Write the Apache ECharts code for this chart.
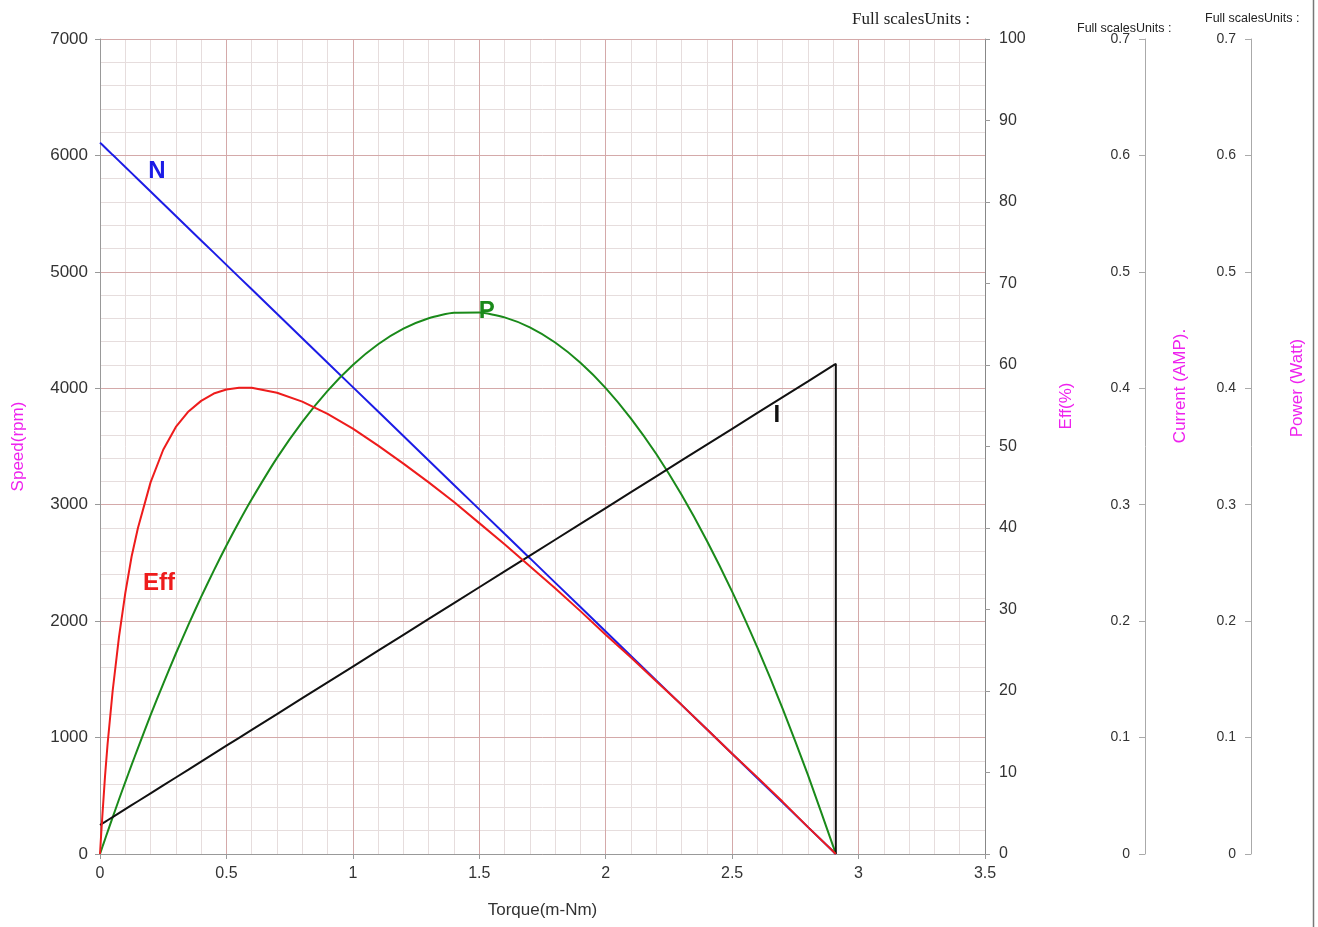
<!DOCTYPE html>
<html>
<head>
<meta charset="utf-8">
<script src="https://cdn.jsdelivr.net/npm/echarts@6/dist/echarts.min.js"></script>
<style>html,body{margin:0;padding:0;background:#fff;}#c{width:1318px;height:927px;}</style>
</head>
<body>
<div id="c"></div>
<script>
// Data
const torque = [0, 0.005, 0.01, 0.02, 0.03, 0.05, 0.075, 0.1, 0.125, 0.15, 0.2, 0.25, 0.3, 0.35, 0.4, 0.45, 0.5, 0.55, 0.6, 0.7, 0.8, 0.9, 1.0, 1.1, 1.2, 1.3, 1.4, 1.5, 1.6, 1.7, 1.8, 1.9, 2.0, 2.1, 2.2, 2.3, 2.4, 2.5, 2.6, 2.7, 2.8, 2.9, 2.91];
const speed = [6110, 6100, 6089, 6068, 6047, 6005, 5953, 5900, 5848, 5795, 5690, 5585, 5480, 5375, 5270, 5165, 5060, 4955, 4850, 4640, 4430, 4220, 4010, 3800, 3590, 3380, 3170, 2960, 2750, 2541, 2331, 2121, 1911, 1701, 1491, 1281, 1071, 861, 651, 441, 231, 21, 0];
const eff = [0, 2.6, 5.0, 9.6, 13.5, 20.0, 26.6, 32.0, 36.5, 40.0, 45.6, 49.6, 52.4, 54.3, 55.6, 56.5, 57.0, 57.2, 57.2, 56.6, 55.5, 54.0, 52.2, 50.1, 47.9, 45.6, 43.2, 40.6, 38.0, 35.3, 32.6, 29.8, 26.9, 24.1, 21.2, 18.3, 15.3, 12.3, 9.4, 6.4, 3.3, 0.3, 0];
const current = [0.0249, 0.0256, 0.0263, 0.0276, 0.0290, 0.0317, 0.0351, 0.0385, 0.0419, 0.0453, 0.0521, 0.0589, 0.0657, 0.0725, 0.0794, 0.0862, 0.0930, 0.0998, 0.1066, 0.1202, 0.1338, 0.1474, 0.1610, 0.1746, 0.1882, 0.2019, 0.2155, 0.2291, 0.2427, 0.2563, 0.2699, 0.2835, 0.2971, 0.3108, 0.3244, 0.3380, 0.3516, 0.3652, 0.3788, 0.3924, 0.4060, 0.4197, 0.4210];
const currentStallDrop = 0;
const power = [0, 0.0032, 0.0064, 0.0127, 0.0190, 0.0314, 0.0468, 0.0618, 0.0765, 0.0910, 0.1192, 0.1462, 0.1722, 0.1970, 0.2208, 0.2434, 0.2650, 0.2854, 0.3047, 0.3402, 0.3712, 0.3978, 0.4200, 0.4378, 0.4512, 0.4602, 0.4648, 0.4650, 0.4609, 0.4523, 0.4393, 0.4219, 0.4002, 0.3740, 0.3435, 0.3085, 0.2691, 0.2254, 0.1772, 0.1247, 0.0677, 0.0064, 0];
// curve labels (data coordinates on each curve's own axis)
const labelN = [0.225, 5866];
const labelEff = [0.233, 33.2];
const labelP = [1.53, 0.4664];
const labelI = [2.677, 0.377];

const pair = (ys) => torque.map((t, i) => [t, ys[i]]);
const currentData = pair(current).concat([[torque[torque.length - 1], currentStallDrop]]);

const FONT = 'Liberation Sans, Arial, sans-serif';
const MAG = '#ee22ee';
const MAJOR = '#d4a9a9';
const MINOR = '#e6dddd';
const AXC = '#999999';

function lbl(coord, text, color) {
  return {
    symbol: 'circle', symbolSize: 1, silent: true,
    itemStyle: {color: 'rgba(0,0,0,0)'},
    label: {show: true, position: 'inside', formatter: text, color: color,
      fontFamily: FONT, fontWeight: 'bold', fontSize: 24},
    data: [{coord: coord}]
  };
}
const plain = (v) => String(v);
const sideAxis = (offset) => ({
  type: 'value', gridIndex: 0, position: 'right', offset: offset, min: 0, max: 0.7, interval: 0.1, z: 1,
  axisLine: {show: true, onZero: false, lineStyle: {color: '#aaa'}},
  axisTick: {show: true, inside: true, length: 6, lineStyle: {color: '#aaa'}},
  axisLabel: {inside: true, color: '#333', fontSize: 14, margin: 15, fontFamily: FONT},
  splitLine: {show: false}
});

const chart = echarts.init(document.getElementById('c'), null, {renderer: 'canvas'});
chart.setOption({
  animation: false,
  backgroundColor: '#ffffff',
  textStyle: {fontFamily: FONT},
  grid: [{left: 100, right: 333, top: 39, bottom: 73}],
  xAxis: [
    {
      type: 'value', min: 0, max: 3.5, interval: 0.5, z: 1,
      name: 'Torque(m-Nm)', nameLocation: 'middle', nameGap: 48,
      nameTextStyle: {color: '#333', fontSize: 17, fontFamily: FONT},
      axisLine: {show: true, onZero: false, lineStyle: {color: AXC}},
      axisTick: {show: true, length: 5, lineStyle: {color: AXC}},
      axisLabel: {color: '#333', fontSize: 16, margin: 12, fontFamily: FONT, formatter: plain},
      splitLine: {show: true, lineStyle: {color: MAJOR, width: 1}}
    },
    {
      type: 'value', position: 'bottom', min: 0, max: 3.5, interval: 0.1, z: 0,
      axisLine: {show: false, onZero: false}, axisTick: {show: false}, axisLabel: {show: false},
      splitLine: {show: true, lineStyle: {color: MINOR, width: 1}}
    }
  ],
  yAxis: [
    {
      type: 'value', position: 'left', min: 0, max: 7000, interval: 1000, z: 1,
      name: 'Speed(rpm)', nameLocation: 'middle', nameGap: 73, nameRotate: 90,
      nameTextStyle: {color: MAG, fontSize: 17, fontFamily: FONT},
      axisLine: {show: true, onZero: false, lineStyle: {color: AXC}},
      axisTick: {show: true, length: 5, lineStyle: {color: AXC}},
      axisLabel: {color: '#333', fontSize: 17, margin: 12, fontFamily: FONT, formatter: plain},
      splitLine: {show: true, lineStyle: {color: MAJOR, width: 1}}
    },
    {
      type: 'value', position: 'right', min: 0, max: 100, interval: 10, z: 1,
      axisLine: {show: true, onZero: false, lineStyle: {color: '#888'}},
      axisTick: {show: true, length: 5, lineStyle: {color: AXC}},
      axisLabel: {color: '#333', fontSize: 16, margin: 14, fontFamily: FONT},
      splitLine: {show: false}
    },
    sideAxis(160),
    sideAxis(266),
    {
      type: 'value', position: 'left', min: 0, max: 7000, interval: 200, z: 0,
      axisLine: {show: false, onZero: false}, axisTick: {show: false}, axisLabel: {show: false},
      splitLine: {show: true, lineStyle: {color: MINOR, width: 1}}
    }
  ],
  series: [
    {name: 'N', type: 'line', xAxisIndex: 0, yAxisIndex: 0, data: pair(speed), showSymbol: false,
      lineStyle: {color: '#1c1ce6', width: 2}, itemStyle: {color: '#1c1ce6'}, z: 3,
      markPoint: lbl(labelN, 'N', '#1c1ce6')},
    {name: 'P', type: 'line', xAxisIndex: 0, yAxisIndex: 3, data: pair(power), showSymbol: false,
      smooth: 0.2,
      lineStyle: {color: '#1a8a1a', width: 2}, itemStyle: {color: '#1a8a1a'}, z: 3,
      markPoint: lbl(labelP, 'P', '#1a8a1a')},
    {name: 'I', type: 'line', xAxisIndex: 0, yAxisIndex: 2, data: currentData, showSymbol: false,
      lineStyle: {color: '#111', width: 2}, itemStyle: {color: '#111'}, z: 3,
      markPoint: lbl(labelI, 'I', '#111')},
    {name: 'Eff', type: 'line', xAxisIndex: 0, yAxisIndex: 1, data: pair(eff), showSymbol: false,
      lineStyle: {color: '#ee1c1c', width: 2}, itemStyle: {color: '#ee1c1c'}, z: 4,
      markPoint: lbl(labelEff, 'Eff', '#ee1c1c')}
  ],
  graphic: [
    {type: 'text', left: 852, top: 11, style: {text: 'Full scalesUnits :', fill: '#222',
      font: '17px "Liberation Serif", "Times New Roman", serif'}},
    {type: 'text', left: 1077, top: 22, style: {text: 'Full scalesUnits :', fill: '#222',
      font: '12.5px "Liberation Sans", Arial, sans-serif'}},
    {type: 'text', left: 1205, top: 12, style: {text: 'Full scalesUnits :', fill: '#222',
      font: '12.5px "Liberation Sans", Arial, sans-serif'}},
    {type: 'text', x: 1066, y: 406, rotation: Math.PI / 2, style: {text: 'Eff(%)', fill: MAG,
      font: '17px "Liberation Sans", Arial, sans-serif', textAlign: 'center', textVerticalAlign: 'middle'}},
    {type: 'text', x: 1180, y: 386, rotation: Math.PI / 2, style: {text: 'Current (AMP).', fill: MAG,
      font: '17px "Liberation Sans", Arial, sans-serif', textAlign: 'center', textVerticalAlign: 'middle'}},
    {type: 'text', x: 1297, y: 388, rotation: Math.PI / 2, style: {text: 'Power (Watt)', fill: MAG,
      font: '17px "Liberation Sans", Arial, sans-serif', textAlign: 'center', textVerticalAlign: 'middle'}},
    {type: 'line', shape: {x1: 1313.5, y1: 0, x2: 1313.5, y2: 927}, style: {stroke: '#777', lineWidth: 1.5}}
  ]
});
</script>
</body>
</html>
